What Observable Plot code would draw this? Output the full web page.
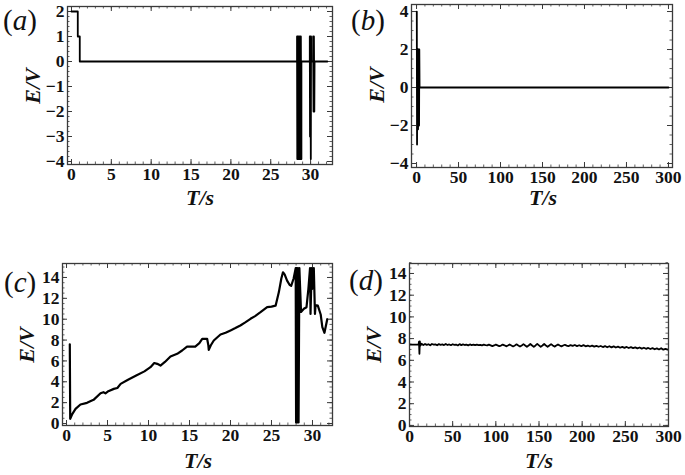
<!DOCTYPE html>
<html>
<head>
<meta charset="utf-8">
<script src="https://cdn.jsdelivr.net/npm/d3@7"></script>
<script src="https://cdn.jsdelivr.net/npm/@observablehq/plot@0.6"></script>
<style>
  html, body { margin: 0; padding: 0; background: #fff; }
  #wrap { position: relative; width: 685px; height: 475px; background: #fff; overflow: hidden; }
  .pnl { position: absolute; }
  .tag { position: absolute; font-family: "Liberation Serif", "Times New Roman", serif; font-size: 29px; line-height: 1; color: #111; white-space: nowrap; }
  .tag i { font-style: italic; }
  .xl, .yl { position: absolute; font-family: "Liberation Serif", "Times New Roman", serif; font-size: 22px; font-weight: bold; font-style: italic; line-height: 1; color: #111; white-space: nowrap; transform: translate(-50%, -50%); }
  .yl { transform: translate(-50%, -50%) rotate(-90deg); }
</style>
</head>
<body>
<div id="wrap"></div>
<script>
// ---------- data ----------
// (a) E/V vs T/s, 0..32 s
const tA = [0, 0.79, 0.79, 1.04, 1.04, 28.3, 28.3, 28.33, 28.38, 28.43, 28.48, 28.53, 28.58, 28.63, 28.68, 28.73, 28.78, 28.83, 28.85, 28.85, 29.9, 29.9, 29.93, 29.96, 30.03, 30.06, 30.08, 30.32, 30.32, 30.37, 30.42, 30.47, 30.5, 32.1];
const eA = [2, 2, 1, 1, 0, 0, 1, -3.9, 1, -3.9, 1, -3.9, 1, -3.9, 1, -3.9, 1, -3.9, -3.9, 0, 0, 1, -3.0, 1, -3.9, 1, 0, 0, 1, -2, 1, -2, 0, 0];
// (b) E/V vs T/s, 0..300 s
const tB = [0.3, 0.6, 0.9, 1.2, 1.5, 1.8, 2.1, 2.4, 2.7, 3.0, 3.3, 3.6, 300];
const eB = [4, -3, 2, -2, 2, -2.2, 2, -2, 2, -2, 2, 0, 0];
// (c) E/V vs T/s, 0..32 s
const tC = [0.4, 0.45, 0.7, 1.1, 1.7, 2.5, 3.3, 4.15, 4.5, 4.75, 5.1, 5.77, 6.2, 6.6, 7.5, 8.5, 9.5, 10.24, 10.7, 11.06, 11.46, 12.0, 12.68, 13.5, 14.1, 14.7, 15.7, 16.2, 16.55, 17.15, 17.3, 17.35, 17.6, 17.96, 18.78, 19.4, 20.0, 20.6, 21.2, 21.8, 22.44, 23.0, 23.66, 24.47, 25.0, 25.5, 25.9, 26.2, 26.4, 26.6, 26.9, 27.2, 27.4, 27.7, 27.95, 28.0, 28.08, 28.14, 28.22, 28.3, 28.4, 28.6, 28.95, 29.27, 29.5, 29.7, 29.76, 29.9, 29.96, 30.16, 30.3, 30.37, 30.65, 31.0, 31.2, 31.46, 31.8];
const eC = [7.6, 0.45, 0.9, 1.4, 1.82, 1.98, 2.27, 2.9, 3.0, 2.9, 3.1, 3.32, 3.4, 3.8, 4.2, 4.6, 5.0, 5.4, 5.8, 5.72, 5.56, 5.9, 6.42, 6.68, 7.0, 7.38, 7.38, 7.7, 8.12, 8.12, 7.5, 7.06, 7.5, 7.96, 8.53, 8.7, 8.92, 9.15, 9.4, 9.7, 10.04, 10.3, 10.67, 11.15, 11.2, 11.3, 12.6, 13.9, 14.5, 14.3, 13.7, 13.3, 13.2, 13.9, 14.9, 0.1, 14.9, 0.1, 14.9, 0.1, 14.9, 10.7, 11.0, 11.15, 12.9, 14.9, 10.5, 14.9, 12.9, 14.9, 10.5, 11.35, 11.3, 10.45, 9.25, 8.7, 10.0];
// (d) E/V vs T/s, 0..300 s
const tD = [0, 10.5, 11, 11.5, 12, 12.5,
  14, 16, 18, 20, 22, 24, 26, 28, 30, 32, 34, 36, 38, 40, 42, 44, 46, 48, 50, 52, 54, 56, 58, 60, 62, 64, 66, 68, 70, 72, 74, 76, 78, 80, 82, 84, 86, 88,
  90, 92, 94, 96, 98, 100, 102, 104, 106, 108, 110, 112, 114, 116, 118, 120, 122, 124, 126, 128, 130, 132, 134, 136, 138, 140, 142, 144, 146, 148, 150, 152, 154, 156, 158, 160, 162, 164, 166, 168, 170, 172, 174, 176, 178, 180, 182,
  184, 186.5, 189, 191.5, 194, 196.5, 199, 201.5, 204, 206.5, 209, 211.5, 214, 216.5, 219, 221.5, 224, 226.5, 229, 231.5, 234, 236.5, 239, 241.5, 244, 246.5, 249, 251.5, 254, 256.5, 259, 261.5, 264, 266.5, 269, 271.5, 274, 276.5, 279, 281.5, 284, 286.5, 289, 291.5, 294, 296.5, 299];
const eD = [7.45, 7.45, 7.72, 6.6, 7.75, 7.35,
  7.52, 7.40, 7.50, 7.42, 7.48, 7.38, 7.50, 7.44, 7.47, 7.39, 7.49, 7.43, 7.46, 7.40, 7.50, 7.41, 7.46, 7.39, 7.48, 7.42, 7.45, 7.37, 7.49, 7.40, 7.47, 7.41, 7.44, 7.38, 7.46, 7.40, 7.44, 7.39, 7.45, 7.40, 7.43, 7.38, 7.44, 7.39,
  7.37, 7.44, 7.37, 7.30, 7.37, 7.45, 7.38, 7.30, 7.36, 7.45, 7.38, 7.29, 7.36, 7.46, 7.37, 7.28, 7.37, 7.47, 7.37, 7.27, 7.37, 7.49, 7.37, 7.25, 7.36, 7.50, 7.37, 7.24, 7.37, 7.51, 7.38, 7.24, 7.36, 7.50, 7.37, 7.25, 7.37, 7.49, 7.37, 7.26, 7.36, 7.46, 7.36, 7.28, 7.36, 7.43, 7.35,
  7.30, 7.40, 7.33, 7.41, 7.31, 7.39, 7.30, 7.40, 7.29, 7.36, 7.27, 7.35, 7.26, 7.33, 7.25, 7.32, 7.22, 7.31, 7.20, 7.30, 7.19, 7.28, 7.18, 7.26, 7.16, 7.24, 7.15, 7.23, 7.13, 7.21, 7.12, 7.19, 7.10, 7.18, 7.08, 7.16, 7.06, 7.14, 7.04, 7.12, 7.02, 7.10, 7.00, 7.12, 6.98, 7.06, 6.98];

// tick values
const xTicks32 = [0, 5, 10, 15, 20, 25, 30];
const xMinor32 = d3.range(0, 33, 1);
const xTicks300 = [0, 50, 100, 150, 200, 250, 300];
const xMinor300 = d3.range(0, 301, 10);
const yTicksA = [-4, -3, -2, -1, 0, 1, 2];
const yMinorA = d3.range(-4, 2.01, 0.2);
const yTicksB = [-4, -2, 0, 2, 4];
const yMinorB = d3.range(-4, 4.01, 0.5);
const yTicksCD = [0, 2, 4, 6, 8, 10, 12, 14];
const yMinorCD = d3.range(0, 15.01, 0.5);
const panelTags = ["a", "b", "c", "d"];
const xLabel = "T/s";
const yLabel = "E/V";

// ---------- layout ----------
const wrap = document.getElementById("wrap");
const rows = (t, e) => t.map((v, i) => ({t: v, e: e[i]}));

const panels = [
  {tag: panelTags[0], left: 0, top: 0, width: 340, height: 190, mL: 67, mR: 8, mT: 6, mB: 26,
   xd: [-0.5, 32.75], yd: [-4.12, 2.2], xt: xTicks32, xm: xMinor32, yt: yTicksA, ym: yMinorA, data: rows(tA, eA), sw: 1.8,
   tagPos: [3, 6], ylPos: [33, 86], xlPos: [200, 198]},
  {tag: panelTags[1], left: 340, top: 0, width: 345, height: 190, mL: 71, mR: 13, mT: 4, mB: 23,
   xd: [-6, 304.8], yd: [-4.21, 4.37], xt: xTicks300, xm: xMinor300, yt: yTicksB, ym: yMinorB, data: rows(tB, eB), sw: 1.8,
   tagPos: [351, 6], ylPos: [377, 85], xlPos: [543, 198]},
  {tag: panelTags[2], left: 0, top: 240, width: 340, height: 210, mL: 62, mR: 8, mT: 23, mB: 25,
   xd: [-0.49, 32.44], yd: [-0.19, 15.34], xt: xTicks32, xm: xMinor32, yt: yTicksCD, ym: yMinorCD, data: rows(tC, eC), sw: 2.2,
   tagPos: [4, 268], ylPos: [27, 345], xlPos: [198, 461]},
  {tag: panelTags[3], left: 340, top: 240, width: 345, height: 210, mL: 69, mR: 17, mT: 23, mB: 24,
   xd: [0, 300], yd: [-0.1, 14.92], xt: xTicks300, xm: xMinor300, yt: yTicksCD, ym: yMinorCD, data: rows(tD, eD), sw: 1.8,
   tagPos: [349, 266], ylPos: [374, 345], xlPos: [539, 461]}
];

const frameColor = "#3a3a3a";
const tickFont = {fontFamily: "Liberation Serif", fontSize: 17.5, fontWeight: "bold", fill: "#111"};

for (const p of panels) {
  const fw = p.width - p.mL - p.mR;
  const fh = p.height - p.mT - p.mB;
  const chart = Plot.plot({
    width: p.width,
    height: p.height,
    marginLeft: p.mL, marginRight: p.mR, marginTop: p.mT, marginBottom: p.mB,
    x: {domain: p.xd},
    y: {domain: p.yd},
    style: {fontFamily: "'Liberation Serif', serif", fontSize: "17.5px", fontWeight: "bold", color: "#111", background: "transparent", overflow: "visible"},
    marks: [
      // minor ticks (inward)
      Plot.tickX(p.xm, {x: d => d, insetTop: fh - 2.5, stroke: frameColor, strokeWidth: 0.8}),
      Plot.tickX(p.xm, {x: d => d, insetBottom: fh - 2.5, stroke: frameColor, strokeWidth: 0.8}),
      Plot.tickY(p.ym, {y: d => d, insetRight: fw - 2.5, stroke: frameColor, strokeWidth: 0.8}),
      Plot.tickY(p.ym, {y: d => d, insetLeft: fw - 2.5, stroke: frameColor, strokeWidth: 0.8}),
      // major ticks (inward)
      Plot.tickX(p.xt, {x: d => d, insetTop: fh - 5, stroke: frameColor, strokeWidth: 1}),
      Plot.tickX(p.xt, {x: d => d, insetBottom: fh - 5, stroke: frameColor, strokeWidth: 1}),
      Plot.tickY(p.yt, {y: d => d, insetRight: fw - 5, stroke: frameColor, strokeWidth: 1}),
      Plot.tickY(p.yt, {y: d => d, insetLeft: fw - 5, stroke: frameColor, strokeWidth: 1}),
      Plot.line(p.data, {x: "t", y: "e", stroke: "#000", strokeWidth: p.sw, clip: true}),
      Plot.frame({stroke: frameColor, strokeWidth: 1.3}),
      Plot.axisX(p.xt, {tickSize: 0, tickPadding: 3, label: null, ...tickFont}),
      Plot.axisY(p.yt, {tickSize: 0, tickPadding: 3, label: null, ...tickFont})
    ]
  });
  chart.classList.add("pnl");
  chart.style.left = p.left + "px";
  chart.style.top = p.top + "px";
  wrap.appendChild(chart);

  const tag = document.createElement("div");
  tag.className = "tag";
  tag.innerHTML = "(<i>" + p.tag + "</i>)";
  tag.style.left = p.tagPos[0] + "px";
  tag.style.top = p.tagPos[1] + "px";
  wrap.appendChild(tag);

  const yl = document.createElement("div");
  yl.className = "yl";
  yl.textContent = yLabel;
  yl.style.left = p.ylPos[0] + "px";
  yl.style.top = p.ylPos[1] + "px";
  wrap.appendChild(yl);

  const xl = document.createElement("div");
  xl.className = "xl";
  xl.textContent = xLabel;
  xl.style.left = p.xlPos[0] + "px";
  xl.style.top = p.xlPos[1] + "px";
  wrap.appendChild(xl);
}
</script>
</body>
</html>
